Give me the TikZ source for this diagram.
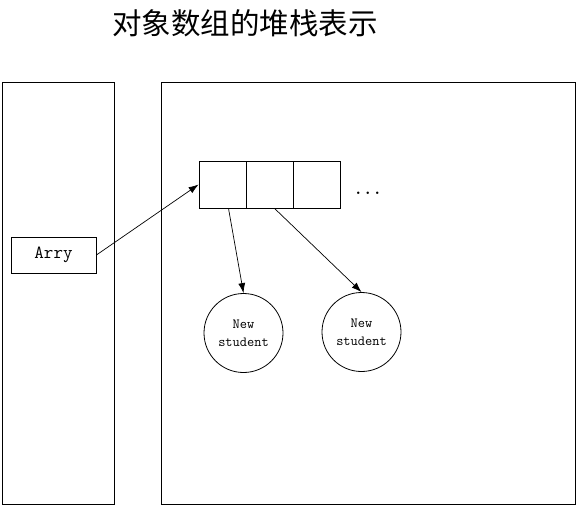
\documentclass[tikz,border=0pt]{standalone}
\usepackage{fontspec}
\newfontfamily\cjk{Noto Sans CJK SC}
\usetikzlibrary{arrows,arrows.meta,positioning}
\tikzstyle{arrow} = [-{Latex[length=10pt,width=7pt]},line width=0.7pt,color=black]
\tikzstyle{cell} = [rectangle, draw, line width=0.8pt, minimum width=47pt, minimum height=47pt, inner sep=0pt]
\tikzstyle{object} = [circle, draw, line width=0.8pt, minimum size=79pt, inner sep=0pt, align=center, font=\ttfamily\fontsize{14}{18}\selectfont]

\begin{document}
\begin{tikzpicture}[x=1pt, y=-1pt]
    \useasboundingbox (0,0) rectangle (577,506);
    % Title
    \node[font=\cjk\fontsize{29.5}{30}\selectfont] (title) at (245,23) {对象数组的堆栈表示};

    % Stack
    \node[rectangle, draw, line width=0.8pt, minimum width=112pt, minimum height=422pt, inner sep=0pt] (stack) at (58,293) {};
    \node[rectangle, draw, line width=0.8pt, minimum width=85pt, minimum height=36pt, inner sep=0pt, font=\ttfamily\fontsize{18.5}{20}\selectfont] (arry) at (53.5,255) {Arry};

    % Heap
    \node[rectangle, draw, line width=0.8pt, minimum width=414pt, minimum height=422pt, inner sep=0pt] (heap) at (368,293) {};
    \node[cell] (cella) at (222.5,184.5) {};
    \node[cell, right=-0.8pt of cella] (cellb) {};
    \node[cell, right=-0.8pt of cellb] (cellc) {};
    \node[font=\ttfamily\bfseries\fontsize{18}{20}\selectfont, right=13pt of cellc, yshift=-9pt, inner sep=0pt] (dots) {...};

    % Objects
    \node[object] (obja) at (243.5,333) {New\\student};
    \node[object] (objb) at (361.5,332) {New\\student};

    % Arrows
    \draw[arrow] (arry.east) -- (cella.west);
    \draw[arrow] ([xshift=6pt]cella.south) -- (obja.north) ;
    \draw[arrow] ([xshift=5pt]cellb.south) -- (objb.north) ;
\end{tikzpicture}
\end{document}
